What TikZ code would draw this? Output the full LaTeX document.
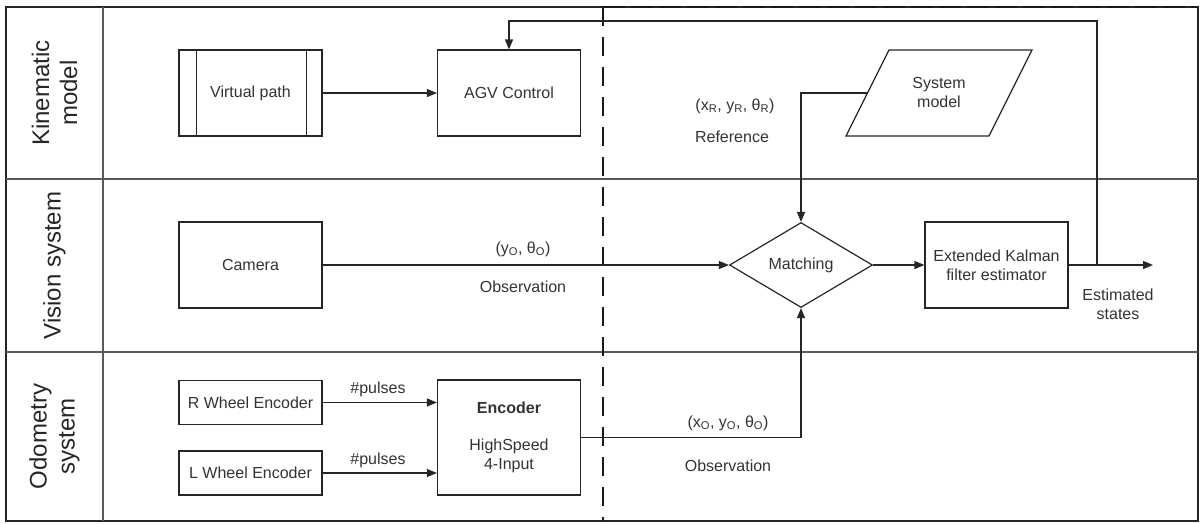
\documentclass[tikz,border=0pt]{standalone}
\usepackage{fontspec}
\setmainfont{Liberation Sans}
\usetikzlibrary{arrows.meta,shapes.geometric,calc}

\begin{document}
\begin{tikzpicture}[x=1pt,y=-1pt,
  frame/.style={draw=black!85, line width=1.2pt},
  lanesep/.style={draw=black!65, line width=1.6pt},
  divider/.style={draw=black!90, line width=2.2pt, dash pattern=on 19pt off 11pt},
  box/.style={draw=black!85, line width=1.2pt, minimum width=143pt, minimum height=86pt,
    inner sep=0pt, align=center, text=black!80, font=\fontsize{16}{19}\selectfont},
  smallbox/.style={box, minimum height=44pt},
  decision/.style={diamond, draw=black!85, line width=1.2pt, minimum width=143pt,
    minimum height=85pt, inner sep=0pt, shape aspect=1.68, text=black!80,
    font=\fontsize{16}{19}\selectfont},
  lbl/.style={text=black!80, font=\fontsize{16}{19}\selectfont, align=center, inner sep=0pt},
  lanelbl/.style={text=black!85, font=\fontsize{24}{28}\selectfont, align=center,
    rotate=90, inner sep=0pt},
  conn/.style={draw=black!85, line width=1.2pt},
  arr/.style={conn, -{Triangle[length=10pt,width=8pt]}}
]
\useasboundingbox (0,0) rectangle (1200,523);

% swimlane frame
\draw[frame] (6,7) rectangle (1198,521);
\draw[lanesep] (6,179) -- (1198,179);
\draw[lanesep] (6,352) -- (1198,352);
\draw[lanesep] (103,7) -- (103,521);

% lane titles
\node[lanelbl] (lkin) at (54.5,93) {Kinematic\\model};
\node[lanelbl] (lvis) at (54.5,265.5) {Vision system};
\node[lanelbl] (lodo) at (54.5,436.5) {Odometry\\system};

% boundary between modules
\draw[divider] (603,7) -- (603,521);
\draw[divider, dash pattern=on 22pt off 6pt] (603,7) -- (1198,7);

% kinematic lane
\node[box] (vpath) at (250.5,93) {Virtual path};
\draw[conn] ([xshift=18pt]vpath.north west) -- ([xshift=18pt]vpath.south west);
\draw[conn] ([xshift=-16pt]vpath.north east) -- ([xshift=-16pt]vpath.south east);
\node[box] (agv) at (509,93) {AGV Control};

\coordinate (smbl) at (846,136);
\coordinate (smtl) at (889,50);
\coordinate (smtr) at (1032,50);
\coordinate (smbr) at (989,136);
\draw[conn] (smbl) -- (smtl) -- (smtr) -- (smbr) -- cycle;
\node[lbl] (sysm) at (939,92) {System\\model};
\coordinate (smw) at ($(smbl)!0.5!(smtl)$);

\node[lbl] (refv) at (735,106) {(x\textsubscript{R}, y\textsubscript{R}, θ\textsubscript{R})};
\node[lbl] (reft) at (732,137) {Reference};

% vision lane
\node[box] (cam) at (250.5,265) {Camera};
\node[decision] (match) at (801,265) {Matching};
\node[box] (ekf) at (996.5,265) {Extended Kalman\\filter estimator};
\coordinate (tap) at (1097,265);
\coordinate (out) at (1153,265);
\node[lbl] (est) at (1118,304) {Estimated\\states};
\node[lbl] (camv) at (523,249) {(y\textsubscript{O}, θ\textsubscript{O})};
\node[lbl] (camt) at (523,287) {Observation};

% odometry lane
\node[smallbox] (rwe) at (250.5,402.5) {R Wheel Encoder};
\node[smallbox] (lwe) at (250.5,473) {L Wheel Encoder};
\node[box, minimum height=115pt] (enc) at (509,437.5) {};
\node[lbl] (enct) at (509,408) {\textbf{Encoder}};
\node[lbl] (encs) at (509,456) {HighSpeed\\4-Input};
\node[lbl] (rp) at (378,389) {\#pulses};
\node[lbl] (lp) at (378,460) {\#pulses};
\node[lbl] (encv) at (728,423) {(x\textsubscript{O}, y\textsubscript{O}, θ\textsubscript{O})};
\node[lbl] (enco) at (728,466) {Observation};

% connectors
\draw[arr] (vpath.east) -- (agv.west);
\draw[arr] (smw) -| (match.north);
\draw[arr] (cam.east) -- (match.west);
\draw[arr] (match.east) -- (ekf.west);
\draw[arr] (ekf.east) -- (out);
\draw[arr] (tap) -- (1097,21) -| (agv.north);
\draw[arr] (rwe.east) -- (rwe.east -| enc.west);
\draw[arr] (lwe.east) -- (lwe.east -| enc.west);
\draw[arr] (enc.east) -| (match.south);
\end{tikzpicture}
\end{document}
